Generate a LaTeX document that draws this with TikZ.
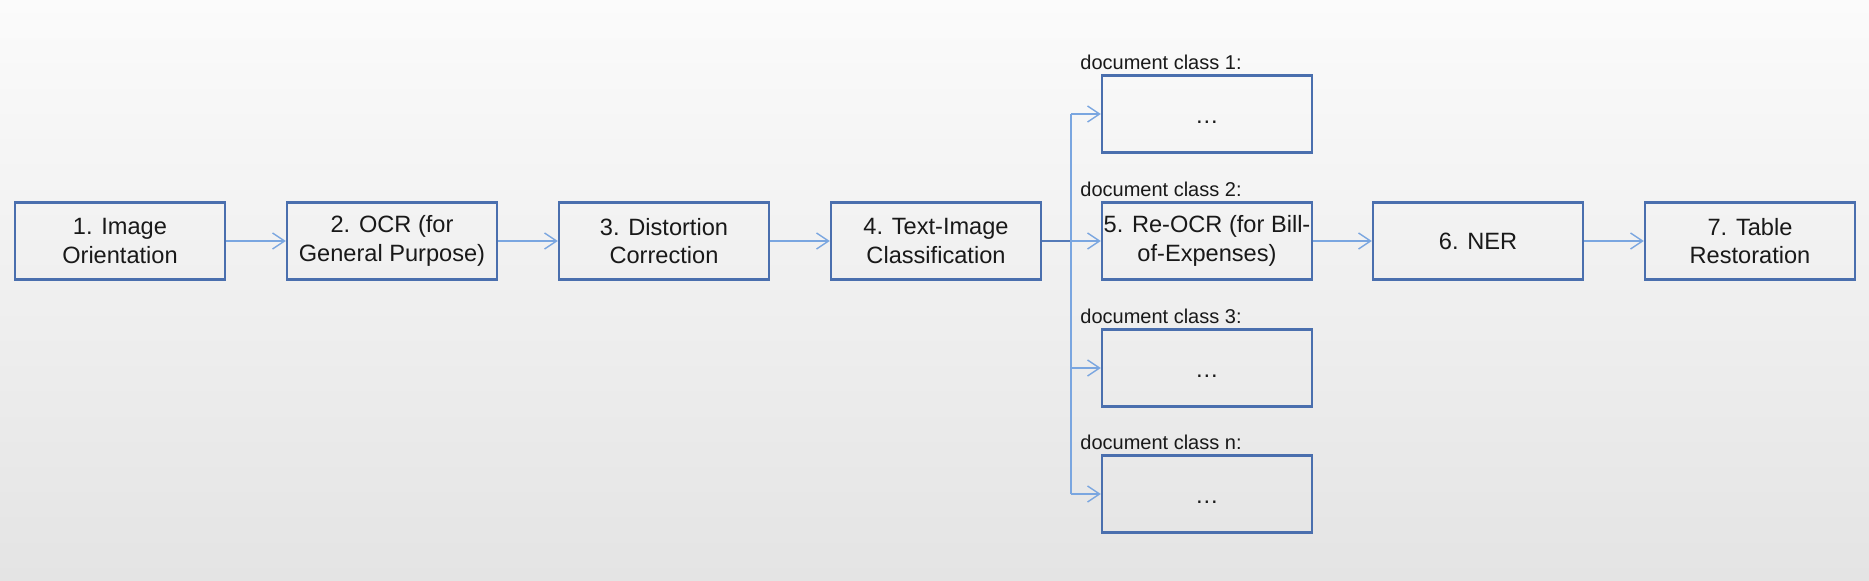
\documentclass[tikz,border=0pt]{standalone}
\usepackage{fontspec}
\setmainfont{Liberation Sans}
\usetikzlibrary{arrows.meta,positioning}
\definecolor{boxblue}{HTML}{4A6FAE}
\definecolor{arrblue}{HTML}{7AA6E0}
\definecolor{topbg}{HTML}{FBFBFB}
\definecolor{botbg}{HTML}{E4E4E4}
\tikzset{
  stagebox/.style={draw=boxblue, line width=1.2pt, minimum width=105pt, minimum height=38.5pt,
    align=center, inner sep=0pt, font=\fontsize{11.8}{14.3}\selectfont, text=black!90},
  dotbox/.style={stagebox, text height=9pt, text depth=0pt},
  classlabel/.style={anchor=base west, inner sep=0pt, font=\fontsize{10}{12}\selectfont, text=black!90},
  flow/.style={draw=arrblue, line width=0.7pt, -{Straight Barb[length=6pt,width=8pt,line width=0.7pt]}},
  busline/.style={draw=arrblue, line width=0.7pt}
}
\begin{document}
\begin{tikzpicture}[x=0.5pt,y=-0.5pt]
\shade[top color=topbg, bottom color=botbg] (0,0) rectangle (1869,580);
\useasboundingbox (0,0) rectangle (1869,580);
\node[stagebox] (b1) at (120,241) {1. Image\\Orientation};
\node[stagebox] (b2) at (392,241) {2. OCR (for\\General Purpose)};
\node[stagebox] (b3) at (664,241) {3. Distortion\\Correction};
\node[stagebox] (b4) at (936,241) {4. Text-Image\\Classification};
\node[dotbox] (c1) at (1207,114) {…};
\node[stagebox] (b5) at (1207,241) {5. Re-OCR (for Bill-\\of-Expenses)};
\node[dotbox] (c3) at (1207,368) {…};
\node[dotbox] (cn) at (1207,494) {…};
\node[stagebox] (b6) at (1478,241) {6. NER};
\node[stagebox] (b7) at (1750,241) {7. Table\\Restoration};
\node[classlabel] (l1) at (1080,69) {document class 1:};
\node[classlabel] (l2) at (1080,196) {document class 2:};
\node[classlabel] (l3) at (1080,323) {document class 3:};
\node[classlabel] (ln) at (1080,449) {document class n:};
\coordinate (bustop) at (1071,114);
\coordinate (busbot) at (1071,494);
\coordinate (busmid) at (1071,241);
\coordinate (bus3) at (1071,368);
\draw[flow] (b1) -- (b2);
\draw[flow] (b2) -- (b3);
\draw[flow] (b3) -- (b4);
\draw[busline, draw=boxblue!80!arrblue] (b4.east) -- (busmid);
\draw[busline] (bustop) -- (busbot);
\draw[flow] (bustop) -- (c1.west);
\draw[flow] (busmid) -- (b5.west);
\draw[flow] (bus3) -- (c3.west);
\draw[flow] (busbot) -- (cn.west);
\draw[flow] (b5) -- (b6);
\draw[flow] (b6) -- (b7);
\end{tikzpicture}
\end{document}
